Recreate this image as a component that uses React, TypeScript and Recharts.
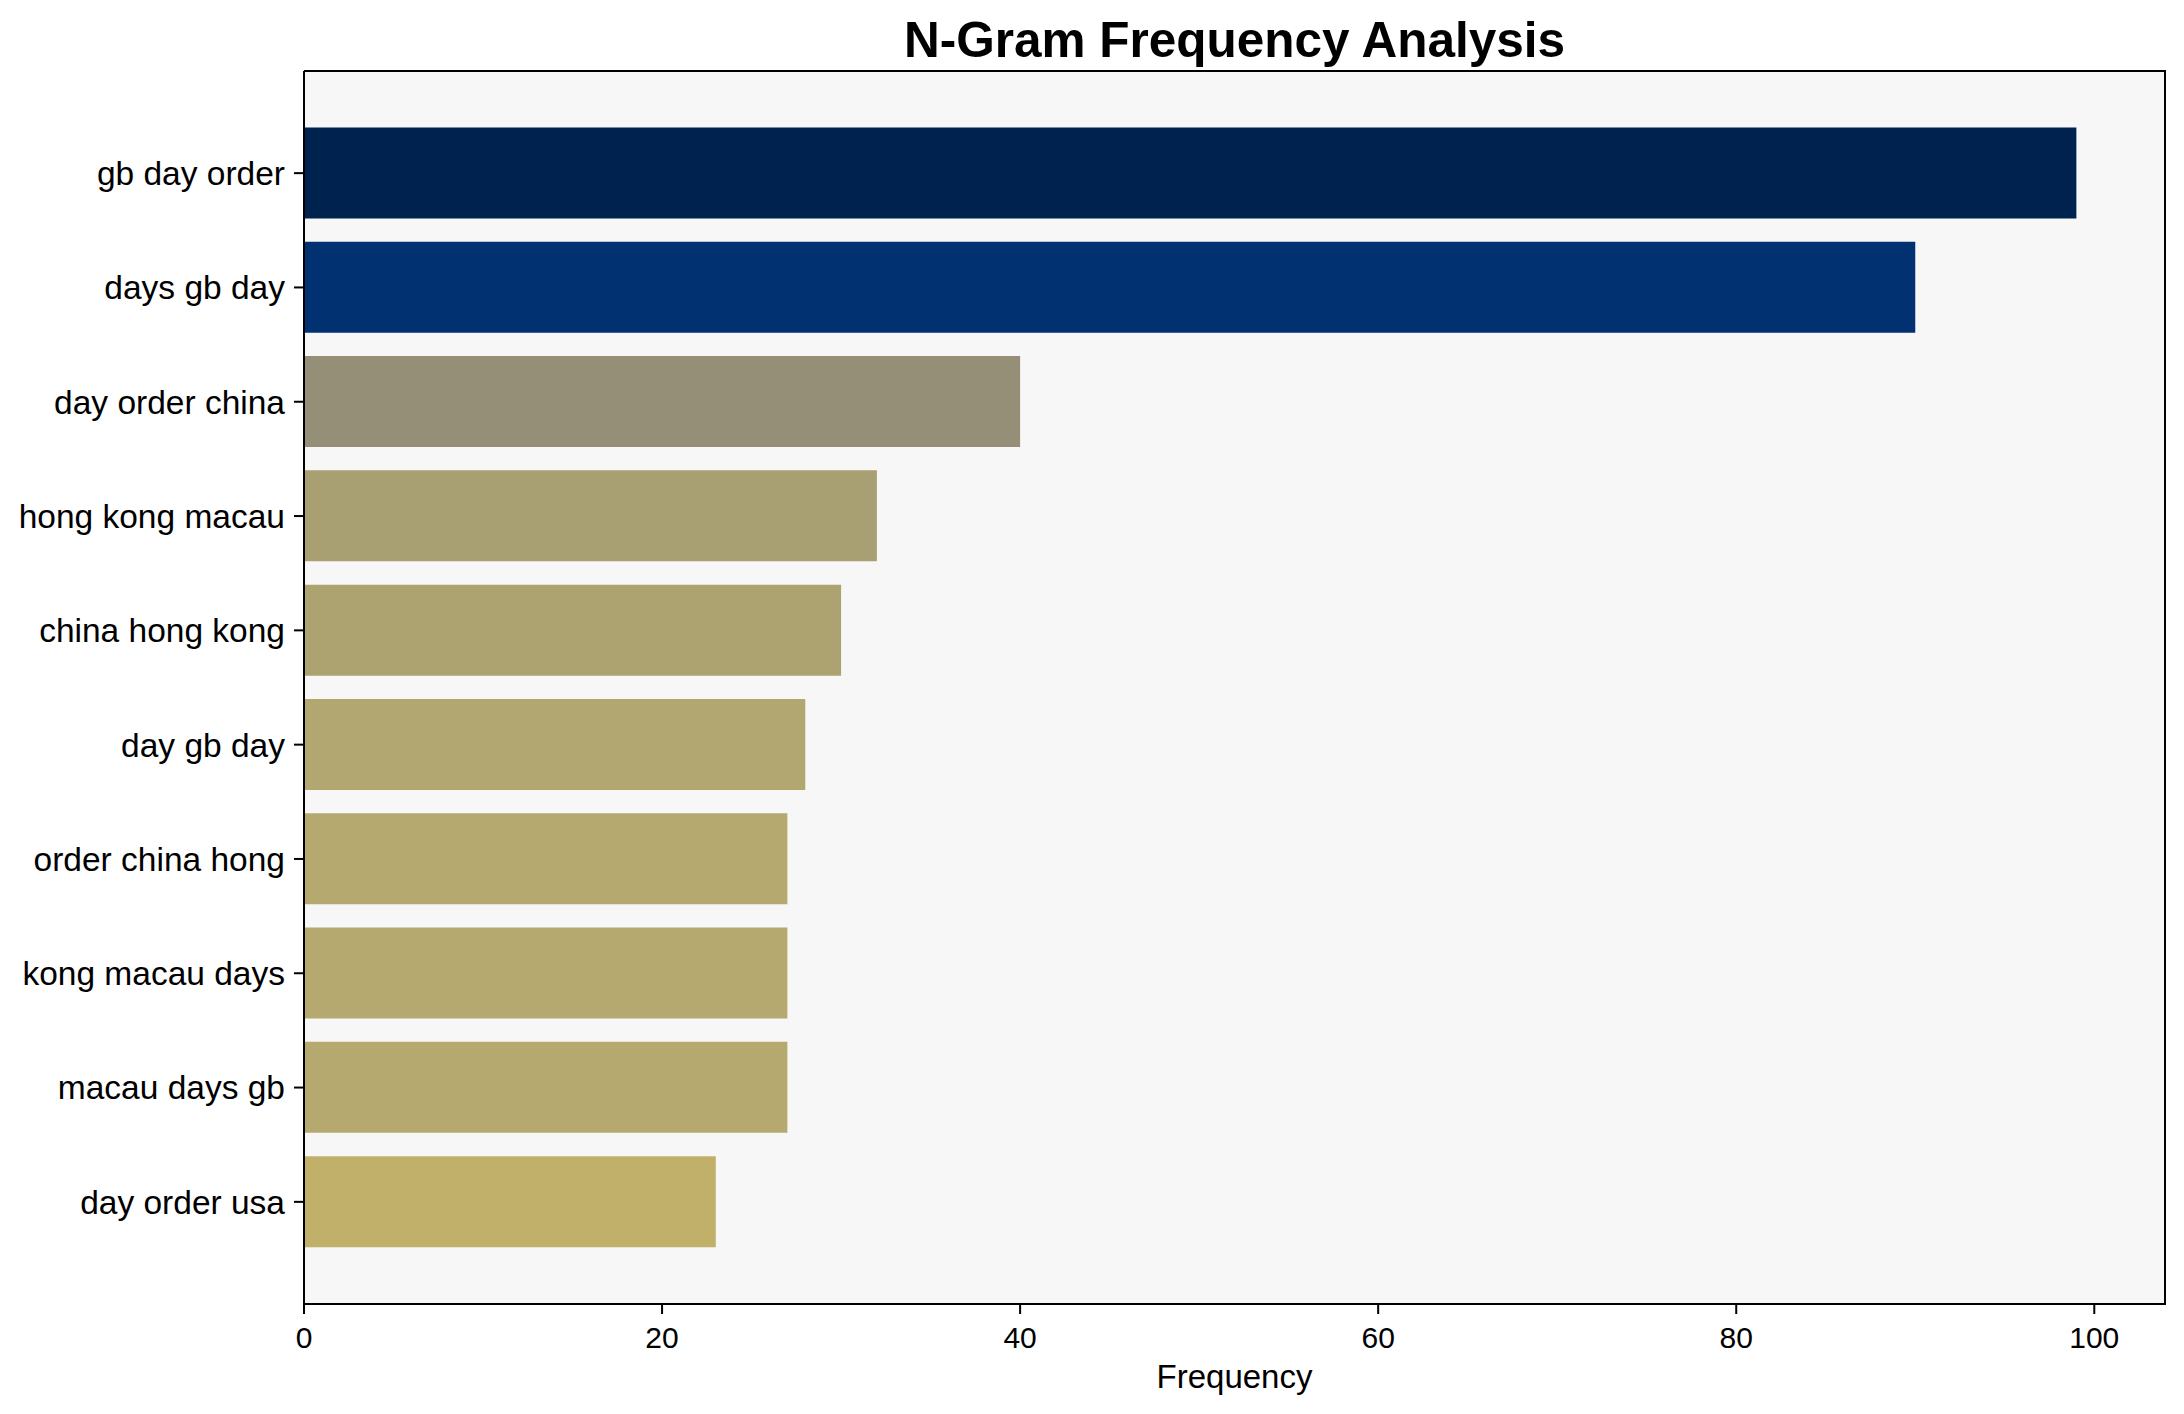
import { Bar, BarChart, CartesianGrid, Cell, Label, XAxis, YAxis } from 'recharts';

const ngrams = [
  'gb day order',
  'days gb day',
  'day order china',
  'hong kong macau',
  'china hong kong',
  'day gb day',
  'order china hong',
  'kong macau days',
  'macau days gb',
  'day order usa',
];
const frequencies = [99, 90, 40, 32, 30, 28, 27, 27, 27, 23];
const xTicks = [0, 20, 40, 60, 80, 100];

const barColors = [
  '#00224e', '#023172', '#958f78', '#a89f73', '#ada371',
  '#b2a770', '#b5a96f', '#b5a96f', '#b5a96f', '#c0b06a',
];

const FONT = '"Liberation Sans", Arial, sans-serif';
const X_MAX = 103.95;
const frameLine = { stroke: '#000', strokeWidth: 2 };

const data = ngrams.map((name, i) => ({ name, value: frequencies[i] }));

export default function App() {
  return (
    <div style={{ position: 'absolute', left: 0, top: 0, width: 2184, height: 1414, background: '#fff', fontFamily: FONT }}>
      <div style={{ position: 'absolute', top: 15, left: 304, width: 1861, textAlign: 'center', fontSize: 49.5, lineHeight: '49px', fontWeight: 700, color: '#000' }}>
        N-Gram Frequency Analysis
      </div>
      <BarChart
        width={2184}
        height={1414}
        data={data}
        layout="vertical"
        margin={{ top: 71, right: 19, bottom: 0, left: 0 }}
        barCategoryGap="10%"
      >
        <CartesianGrid horizontal={false} vertical={false} fill="#f7f7f7" />
        <XAxis
          type="number"
          domain={[0, X_MAX]}
          ticks={xTicks}
          allowDataOverflow
          height={110}
          tickSize={10}
          tickMargin={13}
          axisLine={frameLine}
          tickLine={frameLine}
          tick={{ fill: '#000', fontSize: 30, fontFamily: FONT }}
        >
          <Label value="Frequency" position="insideBottom" offset={26} style={{ fill: '#000', fontSize: 33, fontFamily: FONT }} />
        </XAxis>
        <YAxis
          type="category"
          dataKey="name"
          width={304}
          padding={{ top: 45, bottom: 45 }}
          tickSize={10}
          tickMargin={9}
          axisLine={frameLine}
          tickLine={frameLine}
          tick={{ fill: '#000', fontSize: 33.5, fontFamily: FONT }}
          interval={0}
        />
        <Bar dataKey="value" isAnimationActive={false}>
          {data.map((d, i) => (
            <Cell key={d.name} fill={barColors[i]} />
          ))}
        </Bar>
      </BarChart>
      {/* top and right spines */}
      <div style={{ position: 'absolute', left: 304, top: 70, width: 1860, height: 1233, borderTop: '2px solid #000', borderRight: '2px solid #000', pointerEvents: 'none' }} />
    </div>
  );
}
